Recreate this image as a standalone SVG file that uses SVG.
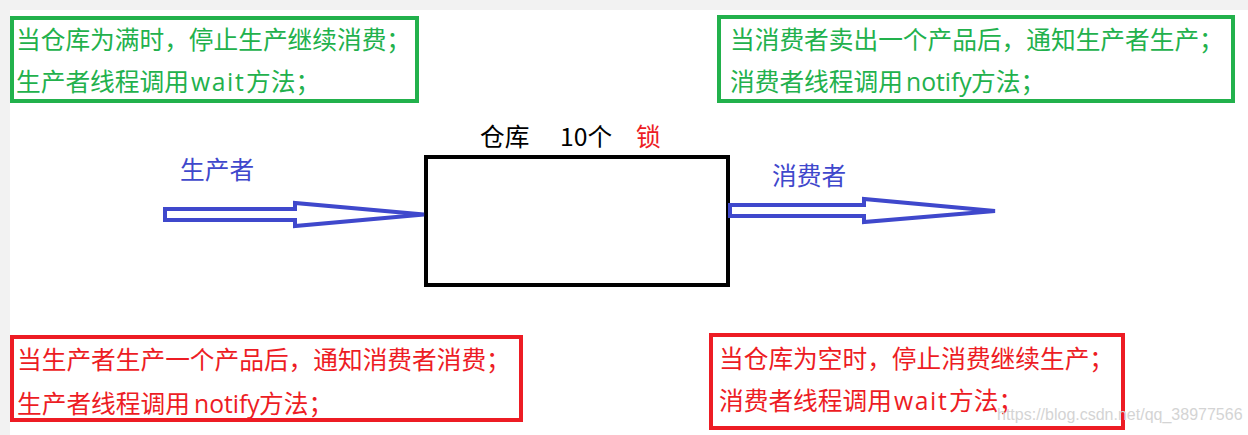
<svg xmlns="http://www.w3.org/2000/svg" width="1248" height="435" viewBox="0 0 1248 435">
<style>
.t{font-family:"Noto Sans CJK SC","Microsoft YaHei","Noto Sans",sans-serif;font-size:24.7px}
.lat{font-family:"Open Sans","Noto Sans",sans-serif}
.w{letter-spacing:1.6px}
.g{fill:#22b14c}
.r{fill:#ed1c24}
.b{fill:#3f48cc}
.k{fill:#000}
.gbox{fill:#fff;stroke:#22b14c;stroke-width:4}
.rbox{fill:#fff;stroke:#ed1c24;stroke-width:4}
.arrow{fill:#fff;stroke:#3f48cc;stroke-width:4;stroke-linejoin:miter;stroke-miterlimit:4}
.wm{font-family:"Liberation Sans",Arial,sans-serif;font-size:16px;fill:#d4d4d4}
</style>
<rect x="0" y="0" width="1248" height="435" fill="#f2f2f2"/>
<rect x="10" y="10" width="1238" height="425" fill="#fff"/>

<g id="note-full">
<rect class="gbox" x="12" y="18" width="405" height="83"/>
<text class="t g" x="16" y="49">当仓库为满时，停止生产继续消费；</text>
<text class="t g" x="16" y="91">生产者线程调用<tspan class="lat w" x="191">wait</tspan><tspan x="246">方法；</tspan></text>
</g>

<g id="note-consumer-notify">
<rect class="gbox" x="719" y="17" width="514" height="84"/>
<text class="t g" x="730" y="49">当消费者卖出一个产品后，通知生产者生产；</text>
<text class="t g" x="730" y="91">消费者线程调用<tspan class="lat" x="906">notify</tspan><tspan x="971">方法；</tspan></text>
</g>

<g id="note-producer-notify">
<rect class="rbox" x="12" y="337" width="509" height="83"/>
<text class="t r" x="17" y="369">当生产者生产一个产品后，通知消费者消费；</text>
<text class="t r" x="17" y="413">生产者线程调用<tspan class="lat" x="194">notify</tspan><tspan x="259">方法；</tspan></text>
</g>

<g id="note-empty">
<rect class="rbox" x="711" y="335" width="412" height="93"/>
<text class="t r" x="719" y="368">当仓库为空时，停止消费继续生产；</text>
<text class="t r" x="719" y="410">消费者线程调用<tspan class="lat w" x="894">wait</tspan><tspan x="949">方法；</tspan></text>
</g>

<g id="warehouse">
<rect x="426" y="157" width="302" height="128" fill="#fff" stroke="#000" stroke-width="4"/>
<text class="t k" x="480" y="146">仓库<tspan x="560">10个</tspan><tspan class="r" x="636">锁</tspan></text>
</g>

<g id="producer">
<text class="t b" x="180" y="179">生产者</text>
</g>

<g id="consumer">
<text class="t b" x="772" y="185">消费者</text>
</g>

<g id="connectors">
<polygon class="arrow" points="165,209 295,209 295,203 424,214.5 295,226 295,220 165,220"/>
<polygon class="arrow" points="730,205 864,205 864,199 995,211 864,222 864,216 730,216"/>
</g>

<text class="wm" x="997" y="420">https://blog.csdn.net/qq_38977566</text>
</svg>
